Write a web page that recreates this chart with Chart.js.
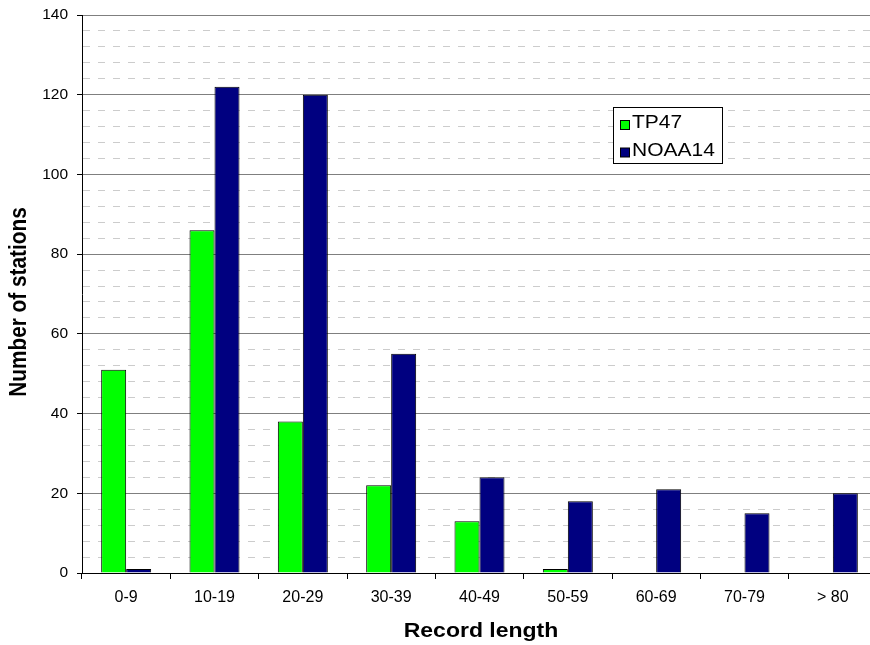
<!DOCTYPE html>
<html><head><meta charset="utf-8">
<script src="https://cdn.jsdelivr.net/npm/chart.js@4.4.0/dist/chart.umd.min.js"></script>
<style>
html,body{margin:0;padding:0;overflow:hidden;background:#fff;width:870px;height:645px}
#wrap{position:relative;width:877px;height:645px}
</style>
</head><body><div id="wrap"><canvas id="c"></canvas></div>
<script>
const categories = ['0-9','10-19','20-29','30-39','40-49','50-59','60-69','70-79','> 80'];
const tp47 = [51, 86, 38, 22, 13, 1, 0, 0, 0];
const noaa14 = [1, 122, 120, 55, 24, 18, 21, 15, 20];
const yMajorTicks = [0, 20, 40, 60, 80, 100, 120, 140];
const seriesNames = ['TP47', 'NOAA14'];
const xTitle = 'Record length';
const yTitle = 'Number of stations';

const FONT = '"Liberation Sans", Arial, Helvetica, sans-serif';
const isMajor = v => yMajorTicks.includes(v);

const decorPlugin = {
  id: 'decor',
  afterDraw(chart) {
    const ctx = chart.ctx;
    ctx.save();
    // Legend box
    ctx.fillStyle = '#fff';
    ctx.fillRect(613.5, 107.5, 109, 56);
    ctx.strokeStyle = '#000';
    ctx.lineWidth = 1;
    ctx.strokeRect(613.5, 107.5, 109, 56);
    chart.data.datasets.forEach((ds, i) => {
      const sy = 120.5 + i * 27.5;
      ctx.fillStyle = ds.backgroundColor;
      ctx.fillRect(620.5, sy, 9, 9);
      ctx.strokeStyle = '#000';
      ctx.strokeRect(620.5, sy, 9, 9);
      ctx.save();
      ctx.translate(632, 128 + i * 27.7);
      ctx.scale(1.2, 1);
      ctx.fillStyle = '#000';
      ctx.font = '17.5px ' + FONT;
      ctx.textAlign = 'left';
      ctx.textBaseline = 'alphabetic';
      ctx.fillText(ds.label, 0, 0);
      ctx.restore();
    });
    // X title
    ctx.save();
    ctx.translate(481, 637);
    ctx.scale(1.15, 1);
    ctx.fillStyle = '#000';
    ctx.font = 'bold 20px ' + FONT;
    ctx.textAlign = 'center';
    ctx.textBaseline = 'alphabetic';
    ctx.fillText(xTitle, 0, 0);
    ctx.restore();
    // Y title
    ctx.save();
    ctx.translate(19.5, 302);
    ctx.rotate(-Math.PI / 2);
    ctx.scale(1, 1.15);
    ctx.fillStyle = '#000';
    ctx.font = 'bold 20.8px ' + FONT;
    ctx.textAlign = 'center';
    ctx.textBaseline = 'middle';
    ctx.fillText(yTitle, 0, 0);
    ctx.restore();
    ctx.restore();
  }
};

new Chart(document.getElementById('c'), {
  type: 'bar',
  data: {
    labels: categories,
    datasets: [
      { label: seriesNames[0], data: tp47, backgroundColor: '#00ff00', borderColor: '#000', borderWidth: 1 },
      { label: seriesNames[1], data: noaa14, backgroundColor: '#000080', borderColor: '#000', borderWidth: 1 }
    ]
  },
  options: {
    responsive: true,
    maintainAspectRatio: false,
    animation: false,
    layout: { padding: { top: 15, right: 0, left: 0, bottom: 0 } },
    datasets: { bar: { barPercentage: 1, categoryPercentage: 0.566 } },
    plugins: { legend: { display: false }, tooltip: { enabled: false } },
    scales: {
      x: {
        afterFit(s) { s.height = 72; s.paddingLeft = 0; s.paddingRight = 0; },
        grid: { offset: true, drawOnChartArea: false, tickLength: 6, tickColor: '#000' },
        border: { color: '#000', width: 1 },
        ticks: { color: '#000', font: { family: FONT, size: 16 }, padding: 9, maxRotation: 0 }
      },
      y: {
        min: 0, max: 140,
        afterFit(s) { s.width = 82; s.paddingTop = 0; s.paddingBottom = 0; },
        grid: {
          color: c => (c.tick && isMajor(c.tick.value)) ? '#7f7f7f' : '#cccccc',
          tickColor: c => (c.tick && isMajor(c.tick.value)) ? '#000' : 'rgba(0,0,0,0)',
          tickLength: 5,
          lineWidth: 1
        },
        border: {
          color: '#000', width: 1,
          dash: c => (c.tick && !isMajor(c.tick.value)) ? [7, 8] : []
        },
        ticks: {
          stepSize: 4, autoSkip: false,
          color: '#000', font: { family: FONT, size: 15.5 }, padding: 9,
          callback: v => isMajor(v) ? String(v) : ''
        }
      }
    }
  },
  plugins: [decorPlugin]
});
</script>
</body></html>
